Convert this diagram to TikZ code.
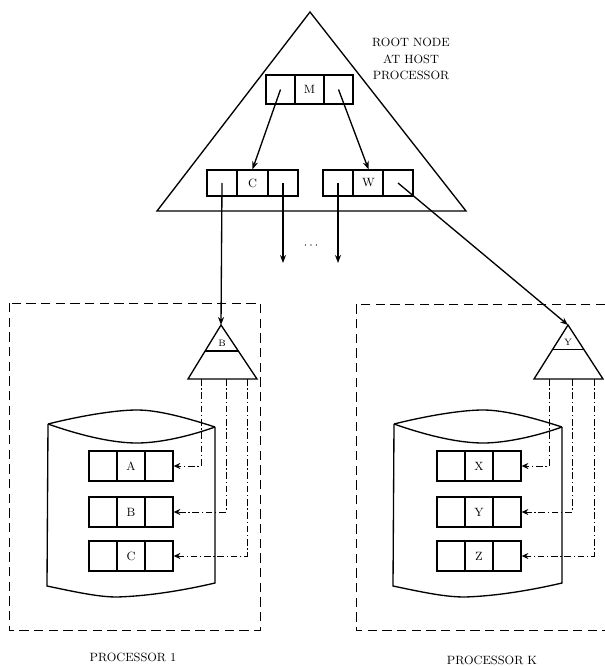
\documentclass[tikz,border=0pt]{standalone}
\usetikzlibrary{arrows.meta,calc}
\begin{document}
\begin{tikzpicture}[x=0.75pt,y=-0.75pt,
  thick line/.style={line width=1pt},
  cellr/.style={draw,line width=1pt,inner sep=0pt,minimum width=21.75pt,minimum height=21.75pt,font=\small},
  cellc/.style={draw,line width=1pt,inner sep=0pt,minimum width=22.3pt,minimum height=19.5pt,font=\small},
  cellb/.style={draw,line width=1pt,inner sep=0pt,minimum width=21pt,minimum height=22.5pt,font=\small},
  arr/.style={line width=1pt,-{Stealth[length=6pt,width=4.5pt]}},
  dd/.style={line width=0.7pt,dash pattern=on 5pt off 2pt on 1pt off 2pt,-{Stealth[length=5pt,width=4.5pt]}},
  procbox/.style={line width=0.7pt,dash pattern=on 7pt off 4pt},
  lbl/.style={font=\small,align=center}]
\useasboundingbox (0,0) rectangle (605,666);

% big root triangle
\draw[thick line] (310,12) -- (157,211) -- (466,211) -- cycle;
\node[lbl,font={\small\linespread{1.15}\selectfont}] (rootlbl) at (411,59) {ROOT NODE\\AT HOST\\PROCESSOR};

% root record M
\node[cellr] (Ma) at (280.5,89.5) {};
\node[cellr] (Mb) at (309.5,89.5) {M};
\node[cellr] (Mc) at (338.5,89.5) {};
% record C
\node[cellc] (Ca) at (222,183) {};
\node[cellc] (Cb) at (252.5,183) {C};
\node[cellc] (Cc) at (283,183) {};
% record W
\node[cellc] (Wa) at (338,183) {};
\node[cellc] (Wb) at (368.5,183) {W};
\node[cellc] (Wc) at (398,183) {};

\draw[arr] (Ma.center) -- (Cb.north);
\draw[arr] (Mc.center) -- (Wb.north);

\coordinate (crend) at (283,263);
\coordinate (wlend) at (338,263);
\draw[arr] (Cc.center) -- (crend);
\draw[arr] (Wa.center) -- (wlend);
\node[font=\small] (dots) at (311,246) {$\cdots$};

% processor boxes
\draw[procbox] (9,303) rectangle (260,630);
\draw[procbox] (605,304) -- (356,304) -- (356,630) -- (605,630);
\node[lbl] (p1) at (133,657) {PROCESSOR 1};
\node[lbl] (pk) at (492,660) {PROCESSOR K};

% ---------- processor 1 ----------
\coordinate (Bapex) at (221,325);
\coordinate (Bbl) at (188,379);
\coordinate (Bbr) at (257,379);
\draw[thick line] (Bapex) -- (Bbl) -- (Bbr) -- cycle;
\draw[thick line] ($(Bapex)!0.48!(Bbl)$) -- ($(Bapex)!0.48!(Bbr)$);
\node[font=\scriptsize] (Blbl) at (222,343) {B};
\draw[arr] (Ca.center) -- (Bapex);

% drum 1
\draw[thick line] (48,424) .. controls (80,416) and (115,410) .. (137,410) .. controls (160,410) and (190,419) .. (215,427);
\draw[thick line] (48,424) .. controls (85,437) and (115,443) .. (137,443) .. controls (160,443) and (190,436) .. (215,427);
\draw[thick line] (48,424) -- (47,586) .. controls (80,593) and (100,597) .. (117,597) .. controls (150,596) and (185,590) .. (215,583) -- (215,427);

\node[cellb] (Aa) at (103,466) {};
\node[cellb] (Ab) at (131,466) {A};
\node[cellb] (Ac) at (159,466) {};
\node[cellb] (Ba) at (103,512) {};
\node[cellb] (Bb) at (131,512) {B};
\node[cellb] (Bc) at (159,512) {};
\node[cellb] (Ka) at (103,556) {};
\node[cellb] (Kb) at (131,556) {C};
\node[cellb] (Kc) at (159,556) {};

\coordinate (b1) at (201,379);
\coordinate (b2) at (226,379);
\coordinate (b3) at (247,379);
\draw[dd] (b1) |- (Ac.east);
\draw[dd] (b2) |- (Bc.east);
\draw[dd] (b3) |- (Kc.east);

% ---------- processor K ----------
\coordinate (Yapex) at (568,325);
\coordinate (Ybl) at (534,379);
\coordinate (Ybr) at (603,379);
\draw[thick line] (Yapex) -- (Ybl) -- (Ybr) -- cycle;
\draw[thick line] ($(Yapex)!0.45!(Ybl)$) -- ($(Yapex)!0.45!(Ybr)$);
\node[font=\scriptsize] (Ylbl) at (568,342) {Y};
\draw[arr] (Wc.center) -- (Yapex);

% drum K
\draw[thick line] (394,424) .. controls (426,416) and (461,410) .. (483,410) .. controls (506,410) and (537,419) .. (562,427);
\draw[thick line] (394,424) .. controls (431,437) and (461,443) .. (483,443) .. controls (506,443) and (537,436) .. (562,427);
\draw[thick line] (394,424) -- (393,586) .. controls (426,593) and (446,597) .. (465,597) .. controls (497,596) and (532,590) .. (562,583) -- (562,427);

\node[cellb] (Xa) at (451,466) {};
\node[cellb] (Xb) at (479,466) {X};
\node[cellb] (Xc) at (507,466) {};
\node[cellb] (Ya) at (451,512) {};
\node[cellb] (Yb) at (479,512) {Y};
\node[cellb] (Yc) at (507,512) {};
\node[cellb] (Za) at (451,556) {};
\node[cellb] (Zb) at (479,556) {Z};
\node[cellb] (Zc) at (507,556) {};

\coordinate (y1) at (549,379);
\coordinate (y2) at (572,379);
\coordinate (y3) at (594,379);
\draw[dd] (y1) |- (Xc.east);
\draw[dd] (y2) |- (Yc.east);
\draw[dd] (y3) |- (Zc.east);
\end{tikzpicture}
\end{document}
